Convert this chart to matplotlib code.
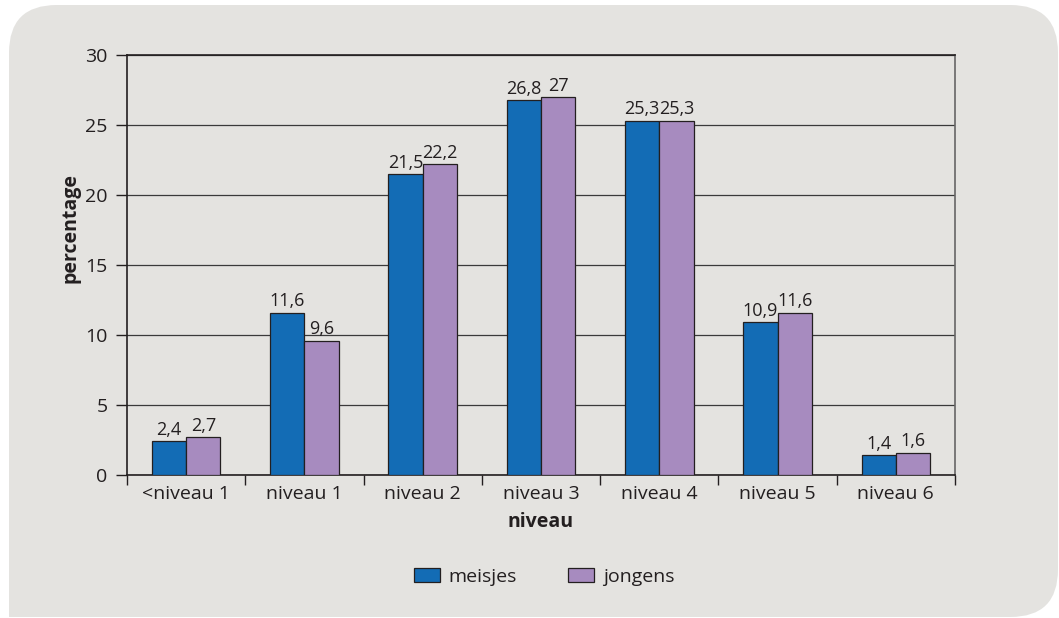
import matplotlib
matplotlib.use('Agg')
import matplotlib.pyplot as plt
from matplotlib.patches import FancyBboxPatch, Rectangle
import numpy as np

categories = ['<niveau 1', 'niveau 1', 'niveau 2', 'niveau 3', 'niveau 4', 'niveau 5', 'niveau 6']
meisjes = [2.4, 11.6, 21.5, 26.8, 25.3, 10.9, 1.4]
jongens = [2.7, 9.6, 22.2, 27.0, 25.3, 11.6, 1.6]
series_names = ['meisjes', 'jongens']

blue = '#136cb5'
purple = '#a78bbf'
bg = '#e4e3e0'
dark = '#231f20'
fs = 14

plt.rcParams['font.family'] = ['Open Sans', 'DejaVu Sans']

fig = plt.figure(figsize=(10.59, 6.18), dpi=100)
fig.patch.set_facecolor('white')

# rounded background panel (square bottom-left corner)
panel = FancyBboxPatch((9 / 1059, 1 / 618), 1049 / 1059, 612 / 618,
                       boxstyle='round,pad=0,rounding_size=0.045',
                       transform=fig.transFigure, facecolor=bg, edgecolor='none',
                       mutation_aspect=1059 / 618, zorder=-10)
fig.patches.append(panel)
fig.patches.append(Rectangle((9 / 1059, 1 / 618), 0.06, 0.1, transform=fig.transFigure,
                             facecolor=bg, edgecolor='none', zorder=-10))

ax = fig.add_axes([127 / 1059, 1 - 475 / 618, (955 - 127) / 1059, (475 - 55) / 618])
ax.set_facecolor(bg)

x = np.arange(len(categories))
w = 0.29
b1 = ax.bar(x - w / 2, meisjes, w, color=blue, edgecolor=dark, linewidth=0.9,
            label=series_names[0], zorder=3)
b2 = ax.bar(x + w / 2, jongens, w, color=purple, edgecolor=dark, linewidth=0.9,
            label=series_names[1], zorder=3)

def fmt(v):
    s = f'{v:.1f}'.replace('.', ',')
    return s[:-2] if s.endswith(',0') else s

for bars, vals in [(b1, meisjes), (b2, jongens)]:
    for r, v in zip(bars, vals):
        ax.text(r.get_x() + r.get_width() / 2, v + 0.45, fmt(v), ha='center', va='baseline',
                fontsize=13, color=dark)

ax.set_xlim(-0.5, len(categories) - 0.5)
ax.set_ylim(0, 30)
ax.set_yticks(range(0, 31, 5))
ax.yaxis.grid(True, color='#3a3a3a', linewidth=0.9, zorder=0)
ax.set_axisbelow(True)

ax.set_xticks(x)
ax.set_xticklabels(categories)
ax.set_xticks(np.arange(-0.5, len(categories), 1), minor=True)
ax.tick_params(axis='x', which='major', length=0, pad=7, labelsize=fs, colors=dark)
ax.tick_params(axis='x', which='minor', length=7, width=1, color=dark)
ax.tick_params(axis='y', length=8, width=1, color=dark, labelsize=fs, labelcolor=dark, pad=6)

for side in ['left', 'bottom', 'top']:
    ax.spines[side].set_color(dark)
    ax.spines[side].set_linewidth(1.2)
ax.spines['right'].set_color('#666666')
ax.spines['right'].set_linewidth(1.2)

ax.set_xlabel('niveau', fontsize=fs, fontweight='bold', color=dark)
ax.set_ylabel('percentage', fontsize=fs, fontweight='bold', color=dark)
ax.xaxis.set_label_coords(0.5, (475 - 522) / 420)
ax.yaxis.set_label_coords((70 - 127) / 828, (475 - 228) / 420)
ax.xaxis.label.set_va('center')
ax.yaxis.label.set_va('center')

leg = fig.legend(handles=[b1, b2], labels=series_names, loc='center',
                 bbox_to_anchor=(544 / 1059, 1 - 577 / 618), ncol=2, frameon=False,
                 fontsize=fs, handlelength=1.35, handleheight=0.7, columnspacing=2.6,
                 handletextpad=0.45)
for t in leg.get_texts():
    t.set_color(dark)

fig.savefig('out.png', dpi=100, facecolor='white')
